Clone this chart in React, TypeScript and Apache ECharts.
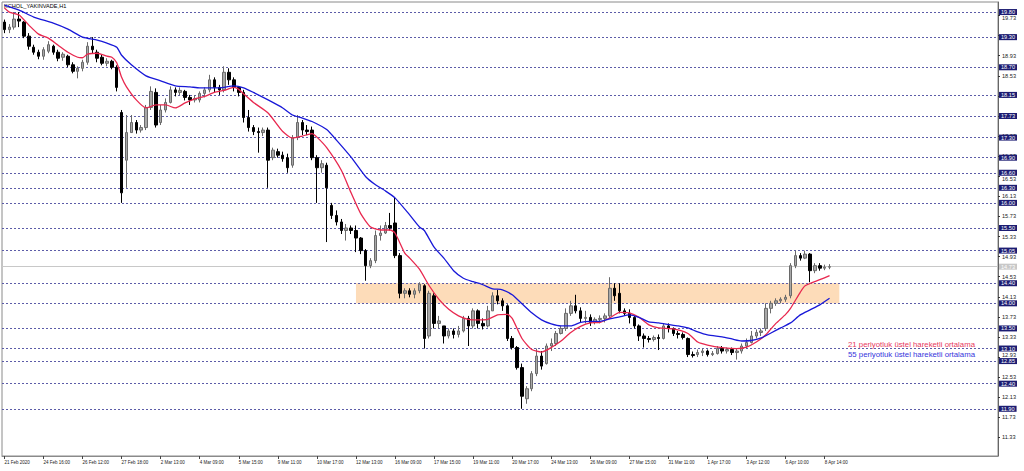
import React, { useEffect, useRef } from 'react';
import * as echarts from 'echarts';

const chartTitle = 'KCHOL_YAKINVADE,H1';
const timeLabels = [
  '21 Feb 2020', '24 Feb 16:00', '26 Feb 12:00', '27 Feb 18:00', '2 Mar 13:00', '4 Mar 09:00',
  '5 Mar 15:00', '9 Mar 11:00', '10 Mar 17:00', '12 Mar 13:00', '16 Mar 09:00', '17 Mar 15:00',
  '19 Mar 11:00', '20 Mar 17:00', '24 Mar 13:00', '26 Mar 09:00', '27 Mar 15:00', '31 Mar 11:00',
  '1 Apr 17:00', '3 Apr 12:00', '6 Apr 10:00', '8 Apr 14:00',
];
const barsPerLabel = 8;
const slotCount = 204;

// [open, close, low, high]
const candles: number[][] = [
  [19.60, 19.45, 19.38, 19.65], [19.45, 19.50, 19.38, 19.56], [19.50, 19.66, 19.45, 19.80], [19.66, 19.62, 19.50, 19.80],
  [19.60, 19.32, 19.28, 19.62], [19.32, 19.12, 19.05, 19.38], [19.10, 19.00, 18.95, 19.15], [19.00, 18.92, 18.86, 19.05],
  [18.92, 19.05, 18.85, 19.10], [19.02, 19.15, 18.98, 19.22], [19.12, 19.00, 18.95, 19.15], [19.00, 18.88, 18.82, 19.05],
  [18.90, 18.96, 18.83, 19.00], [18.92, 18.75, 18.70, 18.95], [18.75, 18.62, 18.58, 18.80], [18.62, 18.68, 18.48, 18.72],
  [18.68, 18.80, 18.62, 18.85], [18.80, 19.12, 18.75, 19.20], [19.12, 19.05, 18.98, 19.30], [19.00, 18.88, 18.80, 19.05],
  [18.90, 18.78, 18.74, 18.95], [18.78, 18.82, 18.72, 18.88], [18.82, 18.70, 18.66, 18.85], [18.70, 18.30, 18.22, 18.74],
  [17.80, 16.20, 16.00, 17.85], [16.85, 17.40, 16.30, 17.75], [17.40, 17.60, 17.40, 17.75], [17.60, 17.45, 17.38, 17.65],
  [17.45, 17.50, 17.40, 17.55], [17.50, 17.90, 17.45, 17.95], [17.90, 18.22, 17.85, 18.32], [18.20, 17.55, 17.50, 18.28],
  [17.60, 17.85, 17.55, 17.95], [17.85, 18.00, 17.80, 18.08], [18.00, 18.25, 17.98, 18.32], [18.25, 18.20, 18.12, 18.30],
  [18.20, 18.24, 18.14, 18.30], [18.22, 18.10, 18.04, 18.25], [18.10, 18.05, 17.95, 18.15], [18.05, 18.08, 18.00, 18.14],
  [18.05, 18.18, 18.00, 18.22], [18.18, 18.25, 18.10, 18.30], [18.25, 18.45, 18.20, 18.55], [18.45, 18.30, 18.20, 18.50],
  [18.30, 18.25, 18.15, 18.35], [18.25, 18.60, 18.20, 18.72], [18.60, 18.45, 18.35, 18.68], [18.45, 18.30, 18.22, 18.50],
  [18.30, 18.20, 18.12, 18.32], [18.20, 17.70, 17.60, 18.25], [17.70, 17.50, 17.42, 17.85], [17.50, 17.42, 17.35, 17.55],
  [17.42, 17.40, 17.00, 17.50], [17.40, 17.45, 17.33, 17.50], [17.45, 16.85, 16.30, 17.50], [16.90, 17.05, 16.85, 17.10],
  [17.02, 16.95, 16.90, 17.08], [16.95, 16.88, 16.82, 17.02], [16.90, 16.70, 16.60, 16.98], [16.75, 17.30, 16.70, 17.35],
  [17.30, 17.60, 17.25, 17.75], [17.60, 17.45, 17.35, 17.65], [17.45, 17.42, 17.35, 17.55], [17.45, 16.90, 16.85, 17.52],
  [16.90, 16.70, 16.00, 16.95], [16.70, 16.78, 16.60, 16.85], [16.75, 16.30, 15.22, 16.80], [15.95, 15.75, 15.68, 16.00],
  [15.75, 15.62, 15.55, 15.85], [15.62, 15.45, 15.38, 15.68], [15.45, 15.50, 15.25, 15.58], [15.50, 15.45, 15.38, 15.55],
  [15.45, 15.30, 15.02, 15.55], [15.30, 15.05, 14.98, 15.32], [15.05, 14.75, 14.45, 15.08], [14.75, 14.85, 14.70, 14.90],
  [14.85, 15.35, 14.80, 15.45], [15.35, 15.40, 15.25, 15.55], [15.40, 15.55, 15.38, 15.62], [15.55, 15.50, 15.45, 15.80],
  [15.60, 14.95, 14.90, 16.10], [14.95, 14.20, 14.10, 15.00], [14.20, 14.25, 14.10, 14.30], [14.25, 14.18, 14.12, 14.30],
  [14.18, 14.25, 14.10, 14.30], [14.25, 14.38, 14.20, 14.42], [14.35, 13.30, 13.10, 14.38], [13.35, 14.20, 13.30, 14.25],
  [14.15, 13.60, 13.50, 14.20], [13.60, 13.65, 13.50, 13.75], [13.55, 13.35, 13.20, 13.55], [13.35, 13.45, 13.30, 13.50],
  [13.45, 13.38, 13.30, 13.50], [13.38, 13.45, 13.32, 13.55], [13.45, 13.70, 13.42, 13.75], [13.70, 13.55, 13.15, 13.75],
  [13.55, 13.85, 13.50, 13.90], [13.85, 13.60, 13.50, 13.88], [13.60, 13.55, 13.48, 13.70], [13.55, 13.85, 13.52, 13.95],
  [13.85, 14.15, 13.85, 14.22], [14.15, 14.05, 13.98, 14.27], [14.05, 13.95, 13.85, 14.10], [13.95, 13.30, 13.25, 13.98],
  [13.30, 13.12, 13.08, 13.35], [13.12, 12.72, 12.68, 13.15], [12.72, 12.15, 11.90, 12.80], [12.10, 12.30, 12.00, 12.35],
  [12.30, 12.60, 12.25, 12.65], [12.60, 12.95, 12.55, 13.10], [12.95, 12.75, 12.68, 13.05], [12.80, 13.15, 12.78, 13.20],
  [13.15, 13.20, 13.05, 13.30], [13.20, 13.40, 13.15, 13.45], [13.40, 13.50, 13.38, 13.55], [13.50, 13.80, 13.45, 13.90],
  [13.80, 13.95, 13.75, 14.05], [13.95, 13.85, 13.80, 14.17], [13.85, 13.70, 13.62, 13.92], [13.70, 13.72, 13.60, 13.85],
  [13.72, 13.62, 13.55, 13.78], [13.62, 13.68, 13.58, 13.72], [13.68, 13.70, 13.60, 13.76], [13.70, 13.75, 13.62, 13.80],
  [13.75, 14.30, 13.70, 14.52], [14.30, 14.15, 14.05, 14.40], [14.20, 13.85, 13.80, 14.40], [13.85, 13.80, 13.75, 13.90],
  [13.80, 13.72, 13.60, 13.88], [13.72, 13.55, 13.50, 13.75], [13.55, 13.35, 13.25, 13.58], [13.35, 13.30, 13.12, 13.40],
  [13.30, 13.28, 13.22, 13.35], [13.28, 13.32, 13.24, 13.36], [13.32, 13.30, 13.07, 13.38], [13.30, 13.55, 13.28, 13.60],
  [13.55, 13.50, 13.42, 13.60], [13.50, 13.40, 13.35, 13.52], [13.40, 13.38, 13.30, 13.45], [13.38, 13.32, 13.28, 13.42],
  [13.30, 12.98, 12.93, 13.32], [12.98, 12.96, 12.92, 13.04], [12.98, 13.02, 12.93, 13.08], [13.02, 13.05, 12.95, 13.10],
  [13.05, 12.98, 12.94, 13.08], [12.98, 13.00, 12.95, 13.05], [13.00, 13.10, 12.98, 13.15], [13.10, 13.05, 13.00, 13.15],
  [13.05, 13.08, 13.00, 13.12], [13.08, 13.02, 12.97, 13.12], [13.02, 13.05, 12.88, 13.10], [13.05, 13.15, 13.00, 13.20],
  [13.15, 13.22, 13.10, 13.30], [13.22, 13.35, 13.20, 13.45], [13.35, 13.42, 13.30, 13.48], [13.42, 13.45, 13.35, 13.50],
  [13.50, 13.90, 13.45, 14.00], [13.90, 14.00, 13.80, 14.05], [14.00, 14.05, 13.95, 14.10], [14.05, 14.08, 14.00, 14.12],
  [14.08, 14.12, 14.03, 14.17], [14.15, 14.75, 14.10, 14.80], [14.75, 14.95, 14.70, 15.05], [14.95, 14.90, 14.85, 15.00],
  [14.90, 14.98, 14.88, 15.05], [14.98, 14.65, 14.42, 15.00], [14.65, 14.75, 14.60, 14.80], [14.75, 14.70, 14.65, 14.80],
  [14.70, 14.72, 14.66, 14.77], [14.72, 14.73, 14.68, 14.78],
];

// [bar index, value]
const ema21 = [
  [0, 19.88], [1, 19.80], [3, 19.74], [5, 19.54], [7, 19.36], [9, 19.28], [11, 19.14], [13, 19.00], [15, 18.90],
  [16, 18.89], [17, 18.96], [19, 18.98], [21, 18.92], [22, 18.90], [23, 18.79], [24, 18.50], [25, 18.31], [27, 18.05],
  [29, 17.89], [31, 17.95], [33, 17.95], [35, 17.89], [37, 17.99], [39, 18.07], [41, 18.12], [43, 18.20], [45, 18.24],
  [47, 18.30], [48, 18.26], [49, 18.17], [51, 18.00], [54, 17.79], [57, 17.42], [59, 17.29], [61, 17.33], [63, 17.38],
  [64, 17.31], [66, 17.10], [69, 16.65], [71, 16.20], [73, 15.78], [75, 15.52], [77, 15.46], [79, 15.46], [80, 15.40],
  [82, 15.00], [83, 14.90], [85, 14.68], [87, 14.35], [89, 14.08], [91, 13.88], [93, 13.75], [95, 13.68], [97, 13.67],
  [99, 13.68], [101, 13.77], [103, 13.78], [104, 13.70], [106, 13.30], [108, 13.08], [110, 13.03], [112, 13.12],
  [114, 13.25], [116, 13.42], [118, 13.54], [120, 13.61], [122, 13.62], [124, 13.71], [126, 13.82], [128, 13.81],
  [130, 13.72], [132, 13.57], [134, 13.51], [137, 13.49], [140, 13.40], [142, 13.23], [144, 13.17], [147, 13.12],
  [150, 13.10], [152, 13.13], [154, 13.23], [156, 13.38], [158, 13.60], [160, 13.78], [161, 13.90], [163, 14.22],
  [164, 14.35], [167, 14.47], [169, 14.55],
];
const ema55 = [
  [0, 19.94], [3, 19.84], [6, 19.70], [10, 19.58], [13, 19.46], [16, 19.30], [19, 19.24], [21, 19.18], [23, 19.10],
  [24, 18.94], [26, 18.75], [29, 18.53], [32, 18.43], [35, 18.33], [38, 18.31], [40, 18.29], [44, 18.29], [47, 18.33],
  [49, 18.29], [51, 18.20], [54, 18.05], [57, 17.89], [59, 17.75], [61, 17.69], [63, 17.62], [66, 17.46], [68, 17.25],
  [71, 16.91], [74, 16.52], [76, 16.36], [78, 16.24], [80, 16.10], [83, 15.76], [85, 15.52], [86, 15.45], [88, 15.12],
  [90, 14.90], [92, 14.65], [94, 14.50], [96, 14.43], [98, 14.37], [100, 14.29], [102, 14.27], [104, 14.17],
  [106, 13.99], [108, 13.81], [110, 13.67], [112, 13.59], [114, 13.55], [116, 13.55], [118, 13.62], [120, 13.64],
  [122, 13.64], [124, 13.69], [126, 13.73], [128, 13.77], [130, 13.72], [132, 13.63], [134, 13.61], [136, 13.58],
  [138, 13.55], [140, 13.51], [142, 13.43], [144, 13.37], [147, 13.33], [149, 13.29], [151, 13.25], [153, 13.26],
  [155, 13.31], [157, 13.41], [159, 13.51], [161, 13.61], [163, 13.77], [165, 13.87], [167, 13.97], [169, 14.10],
];

const priceTicks = [
  11.33, 11.73, 12.13, 12.53, 12.93, 13.33, 13.73, 14.13, 14.53, 14.93, 15.33,
  15.73, 16.13, 16.53, 16.93, 17.33, 17.73, 18.13, 18.53, 18.93, 19.33, 19.73,
];
// tick labels partly covered by a level box: nudged just below / above it
const ticksBelowBox = [19.73, 16.53];
const ticksAboveBox = [12.93];
const levelLines = [
  19.80, 19.30, 18.70, 18.15, 17.73, 17.30, 16.90, 16.60, 16.30, 16.00,
  15.50, 15.05, 14.40, 14.00, 13.50, 13.10, 12.85, 12.40, 11.90,
];
const lastPrice = 14.73;
const zoneBars = [72, 171];
const zonePrices = [14.0, 14.4];
const ema21Label = '21 periyotluk üstel hareketli ortalama';
const ema55Label = '55 periyotluk üstel hareketli ortalama';

const FONT = 'Liberation Sans';

export default function App() {
  const ref = useRef<HTMLDivElement>(null);
  useEffect(() => {
    if (!ref.current) return;
    const chart = echarts.init(ref.current, undefined, { renderer: 'svg' });
    const categories = Array.from({ length: slotCount }, (_, i) => String(i));
    const showLabel = (i: number) => i % barsPerLabel === 0 && i / barsPerLabel < timeLabels.length;
    const near = (list: number[], v: number) => list.some((t) => Math.abs(t - v) < 0.001);

    const levelData: any[] = levelLines.map((v) => ({ yAxis: v }));
    levelData.push({
      yAxis: lastPrice,
      lineStyle: { type: 'solid', color: '#c8c8c8', width: 1 },
      label: { backgroundColor: '#c8c8c8', color: '#ffffff' },
    });

    const tickText = { fontSize: 5.6, fontFamily: FONT, color: '#222' };

    chart.setOption({
      animation: false,
      backgroundColor: '#ffffff',
      grid: { left: 2, right: 26, top: 2, bottom: 15, show: true, borderColor: '#8a8a8a', borderWidth: 1 },
      xAxis: {
        type: 'category',
        data: categories,
        boundaryGap: true,
        axisLine: { show: true, lineStyle: { color: '#8a8a8a' } },
        axisTick: { show: true, alignWithLabel: true, interval: (i: number) => showLabel(i), length: 3, lineStyle: { color: '#444' } },
        axisLabel: {
          interval: (i: number) => showLabel(i),
          formatter: (_v: string, i: number) => (showLabel(i) ? timeLabels[i / barsPerLabel] : ''),
          fontSize: 4.5,
          fontFamily: FONT,
          color: '#222',
          align: 'left',
          margin: 4,
        },
        splitLine: { show: false },
      },
      yAxis: {
        type: 'value',
        position: 'right',
        min: 10.96,
        max: 20.0,
        axisLine: { show: true, lineStyle: { color: '#666' } },
        axisTick: { show: true, customValues: priceTicks, length: 2, lineStyle: { color: '#333' } },
        axisLabel: {
          customValues: priceTicks,
          formatter: (v: number) => {
            const s = v.toFixed(2);
            if (near(ticksBelowBox, v)) return `{down|${s}}`;
            if (near(ticksAboveBox, v)) return `{up|${s}}`;
            return s;
          },
          ...tickText,
          margin: 4,
          rich: {
            down: { ...tickText, padding: [5, 0, 0, 0] },
            up: { ...tickText, padding: [0, 0, 5, 0] },
          },
        },
        splitLine: { show: false },
      },
      graphic: [
        { type: 'text', left: 4, top: 3, style: { text: chartTitle, fontSize: 5.6, fontFamily: FONT, fill: '#000' } },
        {
          type: 'text', x: 975, y: 344.5,
          style: { text: ema21Label, fontSize: 7.8, fontFamily: FONT, fill: '#e8385c', align: 'right', verticalAlign: 'middle' },
        },
        {
          type: 'text', x: 975, y: 354.5,
          style: { text: ema55Label, fontSize: 7.8, fontFamily: FONT, fill: '#3535dc', align: 'right', verticalAlign: 'middle' },
        },
      ],
      series: [
        {
          type: 'candlestick',
          data: candles,
          barWidth: 3,
          z: 3,
          itemStyle: { color: '#a8a8a8', color0: '#000000', borderColor: '#6a6a6a', borderColor0: '#000000', borderWidth: 1 },
          markArea: {
            silent: true,
            z: 1,
            itemStyle: { color: '#fddcb9' },
            data: [[{ xAxis: zoneBars[0], yAxis: zonePrices[0] }, { xAxis: zoneBars[1], yAxis: zonePrices[1] }]],
          },
          markLine: {
            silent: true,
            z: 1,
            symbol: ['none', 'none'],
            lineStyle: { type: [2, 2], color: '#5c5ca8', width: 1 },
            label: {
              show: true,
              position: 'end',
              distance: 1,
              formatter: (p: any) => Number(p.value).toFixed(2),
              color: '#ffffff',
              backgroundColor: '#1c1c72',
              fontSize: 5.6,
              fontFamily: FONT,
              lineHeight: 6,
              padding: [0, 2, 0, 2],
            },
            data: levelData,
          },
        },
        {
          type: 'line',
          data: ema21,
          showSymbol: false,
          smooth: 0.2,
          z: 4,
          lineStyle: { color: '#e8284f', width: 1.3 },
        },
        {
          type: 'line',
          data: ema55,
          showSymbol: false,
          smooth: 0.2,
          z: 4,
          lineStyle: { color: '#1818d8', width: 1.3 },
        },
      ],
    });
    return () => chart.dispose();
  }, []);
  return (
    <div
      ref={ref}
      style={{ position: 'fixed', left: 0, top: 0, width: 1024, height: 471, background: '#ffffff' }}
    />
  );
}
